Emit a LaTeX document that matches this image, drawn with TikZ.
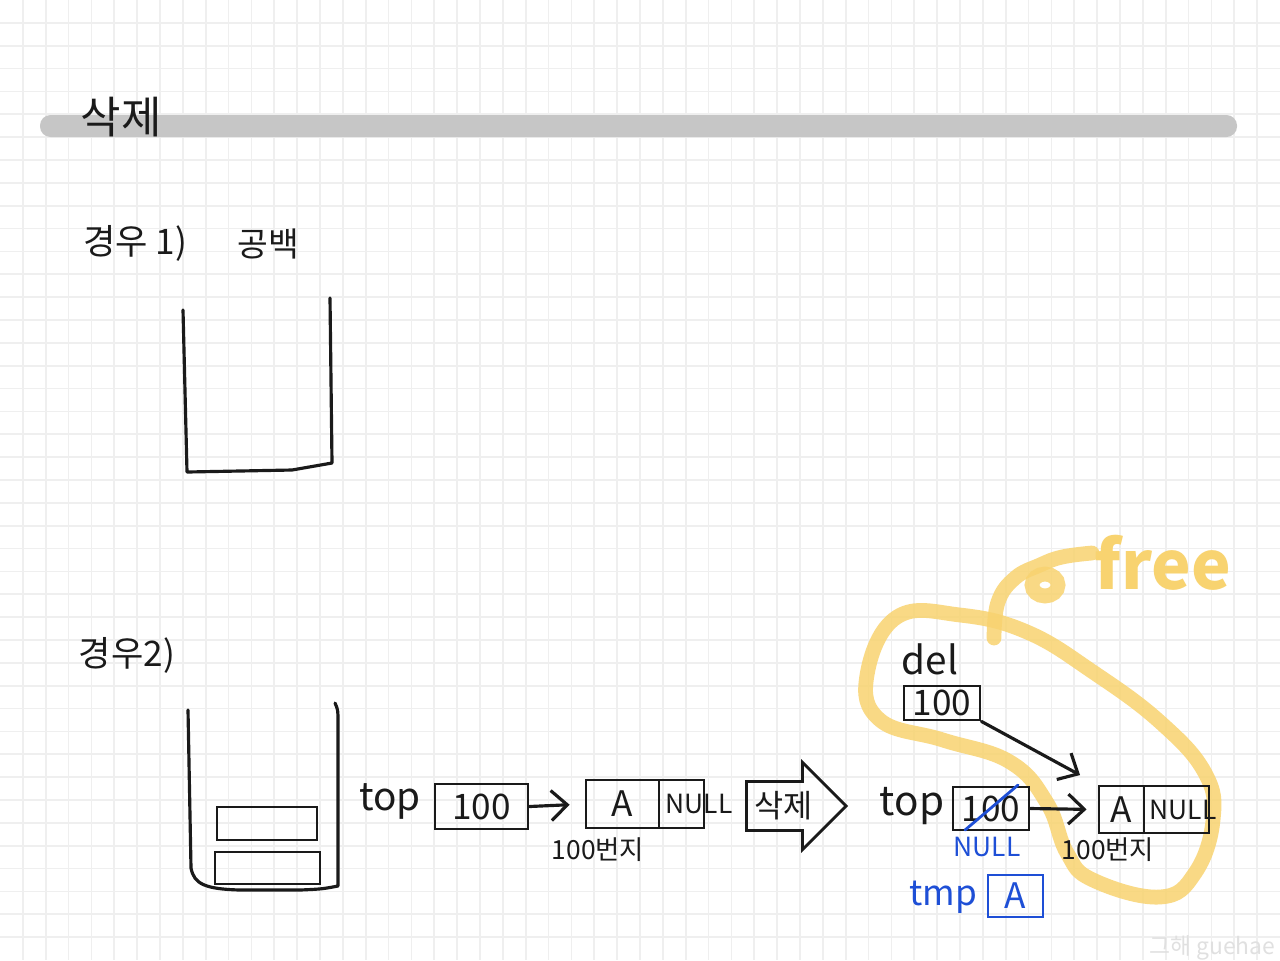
\documentclass[tikz,border=0pt]{standalone}
\usepackage{fontspec}
\setmainfont{Noto Sans CJK KR}
\usetikzlibrary{shapes.arrows,arrows.meta}

\definecolor{ink}{HTML}{1A1A1A}
\definecolor{pen}{HTML}{1E4FD6}
\definecolor{marker}{HTML}{F8D370}
\definecolor{gridgray}{HTML}{EFEFEF}
\definecolor{bargray}{HTML}{C6C6C6}

\newcommand{\fs}[1]{\fontsize{#1}{#1}\selectfont}

\begin{document}
\begin{tikzpicture}[x=0.01cm,y=-0.01cm,
  ink/.style={draw=ink,line width=0.9pt,line cap=round,line join=round},
  cell/.style={draw=ink,line width=0.8pt,inner sep=0pt,text=ink,font=\fs{10}},
  word/.style={text=ink,inner sep=0pt},
  blueword/.style={text=pen,inner sep=0pt},
  >={Straight Barb[length=1.6mm,width=3mm]}]

\fill[white] (0,0) rectangle (1280,960);
\useasboundingbox (0,0) rectangle (1280,960);

\foreach \i in {1,...,55}
  \draw[gridgray,line width=0.5pt] (\i*22.857,0)--(\i*22.857,960);
\foreach \j in {1,...,41}
  \draw[gridgray,line width=0.5pt] (0,\j*22.857)--(1280,\j*22.857);

\fill[bargray,rounded corners=3pt] (40,115) rectangle (1237,137);
\node[word,font=\fs{12.5}] (title) at (121,117) {삭제};

% case 1
\node[word,font=\fs{10}] (case1) at (135,243) {경우 1)};
\node[word,font=\fs{9.5}] (empty) at (268,244) {공백};
\draw[ink] (183,310) -- (187,472) -- (292,470) .. controls (312,466) .. (332,463) -- (330,298);

% case 2
\node[word,font=\fs{10}] (case2) at (127,655) {경우2)};
\draw[ink] (188,710) -- (191,868) .. controls (194,884) and (205,889) .. (240,890)
  -- (300,890) .. controls (322,889) .. (338,886) -- (338,722) .. controls (338,710) .. (335,703);
\node[cell,minimum width=1.00cm,minimum height=0.33cm] (item1) at (267,823.5) {};
\node[cell,minimum width=1.05cm,minimum height=0.32cm] (item2) at (267.5,868) {};

% free marker
\draw[marker,opacity=0.85,line width=4.2pt,line cap=round]
  plot[smooth cycle,tension=0.7] coordinates {(897,617) (867,675) (880,720) (943,740) (1010,762)
  (1047,803) (1067,853) (1093,880) (1160,897) (1195,873) (1213,820) (1205,773) (1160,722)
  (1093,672) (1027,632) (960,615)};
\draw[marker,opacity=0.85,line width=4.2pt,line cap=round]
  plot[smooth,tension=0.7] coordinates {(994,638) (998,602) (1015,578) (1040,565) (1062,557) (1092,553)};
\draw[marker,opacity=0.85,line width=4.2pt] (1045,585) ellipse (13 and 11);
\node[text=marker,inner sep=0pt,font=\fs{19}\bfseries] (free) at (1163,563) {free};

% before
\node[word,font=\fs{11}] (top1) at (390,801) {top};
\node[cell,minimum width=0.93cm,minimum height=0.45cm] (ptr1) at (481.5,806.5) {100};
\node[cell,minimum width=0.73cm,minimum height=0.48cm] (dat1) at (622.5,804) {A};
\node[cell,minimum width=0.45cm,minimum height=0.48cm] (nxt1) at (681.5,804) {};
\node[word,font=\fs{7.5},anchor=west] (null1) at (665,804) {NULL};
\node[word,font=\fs{7.5}] (addr1) at (598,850) {100번지};
\draw[ink,->] (ptr1.east) -- (dat1.west) [shorten >=0.15cm];

\node[single arrow,draw=ink,line width=0.8pt,text=ink,font=\fs{9},anchor=tail,
  minimum height=0.96cm,single arrow head extend=0.19cm,inner xsep=2pt,inner ysep=2.5pt]
  (go) at (745,806) {삭제};

% after
\node[word,font=\fs{11}] (del) at (930,659) {del};
\node[cell,minimum width=0.76cm,minimum height=0.34cm] (delbox) at (942,703) {100};
\node[word,font=\fs{11.5}] (top2) at (912,806) {top};
\node[cell,minimum width=0.76cm,minimum height=0.43cm] (ptr2) at (991,808.5) {100};
\draw[pen,line width=0.8pt,line cap=round] (965,830) -- (1018,785);
\node[blueword,font=\fs{7.5}] (null2) at (987,847) {NULL};
\node[cell,minimum width=0.45cm,minimum height=0.47cm] (dat2) at (1121.5,809.5) {A};
\node[cell,minimum width=0.65cm,minimum height=0.47cm] (nxt2) at (1176.5,809.5) {};
\node[word,font=\fs{7.5},anchor=west] (null3) at (1149,810) {NULL};
\node[word,font=\fs{7.5}] (addr2) at (1108,850) {100번지};
\draw[ink,->] (ptr2.east) -- (dat2.west) [shorten >=0.11cm];
\draw[ink,->] (delbox.south east) -- (dat2.north west) [shorten >=0.2cm];

\node[blueword,font=\fs{10}] (tmp) at (943,897) {tmp};
\node[draw=pen,line width=0.8pt,text=pen,inner sep=0pt,font=\fs{10},
  minimum width=0.55cm,minimum height=0.42cm] (tmpbox) at (1015.5,896) {A};

\node[text=black!12,inner sep=0pt,font=\fs{6.5},anchor=east] (mark) at (1276,948) {그해 guehae};
\end{tikzpicture}
\end{document}
